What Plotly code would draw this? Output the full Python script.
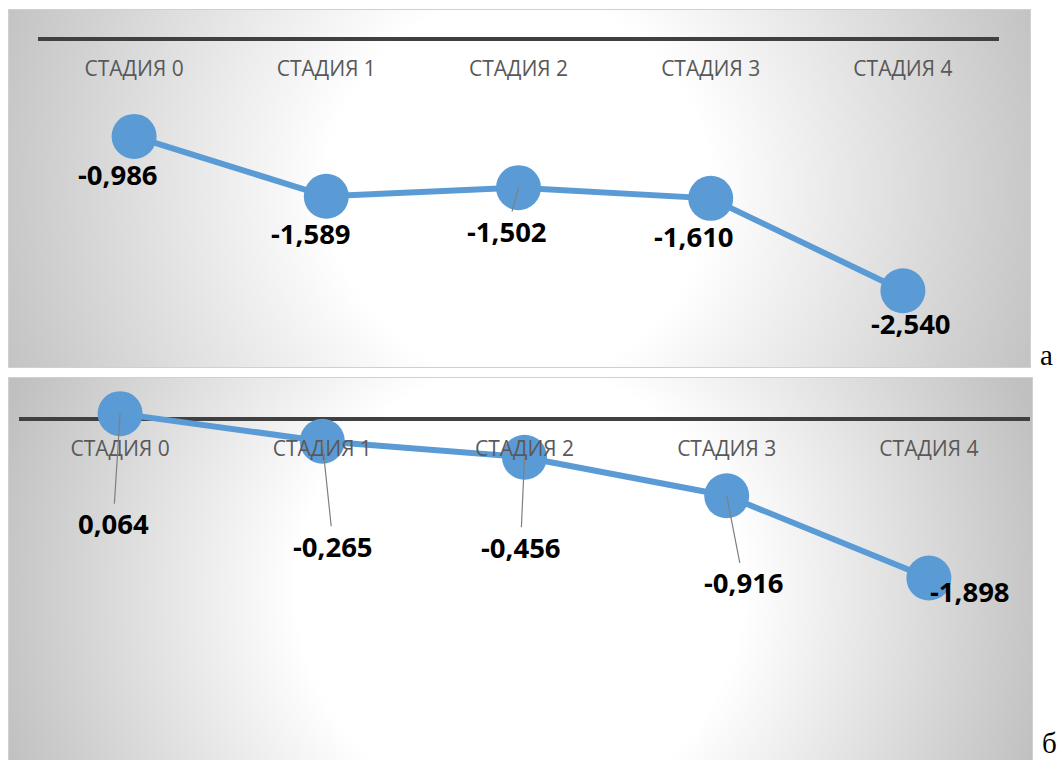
import base64
import plotly.graph_objects as go

# ---------------- data ----------------
categories = ["СТАДИЯ 0", "СТАДИЯ 1", "СТАДИЯ 2", "СТАДИЯ 3", "СТАДИЯ 4"]
values_a = [-0.986, -1.589, -1.502, -1.610, -2.540]
values_b = [0.064, -0.265, -0.456, -0.916, -1.898]
panel_letters = ["а", "б"]

# ---------------- styling / layout constants ----------------
W, H = 1061, 760
BLUE = "#5B9BD5"
AXIS = "#404040"
TICK = "#595959"
FONT = "Open Sans"

# label offsets (pixels) from each point, and whether a leader line is visible
off_a = [(-16, 38), (-15, 37), (-12, 44), (-17, 38), (8, 33)]
lead_a = [False, False, True, False, False]
off_b = [(-7, 110), (11, 105), (-4, 90), (17, 87), (41, 13)]
lead_b = [True, True, True, True, False]

# panel geometry (pixels)
def yrange(top_px, bot_px, zero_px, scale):
    return [-(bot_px - zero_px) / scale, (zero_px - top_px) / scale]

ra = yrange(10, 367, 38.5, 99.3)
rb = yrange(377, 760, 419, 83.8)
dom_ya = [1 - 367 / H, 1 - 10 / H]
dom_yb = [0, 1 - 377 / H]
dom_xa = [38 / W, 999 / W]
dom_xb = [19 / W, 1030 / W]


def zero_pos(dom, rng):
    return dom[0] + (0 - rng[0]) / (rng[1] - rng[0]) * (dom[1] - dom[0])


# ---------------- background (radial gradients) ----------------
svg = f'''<svg xmlns="http://www.w3.org/2000/svg" width="{W}" height="{H}" viewBox="0 0 {W} {H}" preserveAspectRatio="none">
<defs>
<radialGradient id="ga" gradientUnits="userSpaceOnUse" cx="519" cy="188" r="560">
<stop offset="0" stop-color="#ffffff"/><stop offset="0.34" stop-color="#ffffff"/><stop offset="1" stop-color="#c0c0c0"/>
</radialGradient>
<radialGradient id="gb" gradientUnits="userSpaceOnUse" cx="520" cy="590" r="542">
<stop offset="0" stop-color="#ffffff"/><stop offset="0.41" stop-color="#ffffff"/><stop offset="1" stop-color="#c0c0c0"/>
</radialGradient>
</defs>
<rect x="8.5" y="9.5" width="1022" height="358" fill="url(#ga)" stroke="#d0d0d0" stroke-width="1"/>
<rect x="8.5" y="377.5" width="1024" height="400" fill="url(#gb)" stroke="#d0d0d0" stroke-width="1"/>
</svg>'''
bg_uri = "data:image/svg+xml;base64," + base64.b64encode(svg.encode("utf-8")).decode("ascii")

fig = go.Figure()

fig.add_trace(go.Scatter(
    x=categories, y=values_a, xaxis="x", yaxis="y", mode="lines+markers",
    line=dict(color=BLUE, width=6), marker=dict(color=BLUE, size=45),
    hoverinfo="skip", showlegend=False, cliponaxis=False))
fig.add_trace(go.Scatter(
    x=categories, y=values_b, xaxis="x2", yaxis="y2", mode="lines+markers",
    line=dict(color=BLUE, width=6), marker=dict(color=BLUE, size=45),
    hoverinfo="skip", showlegend=False, cliponaxis=False))

annotations = []
for vals, offs, leads, xr, yr in [(values_a, off_a, lead_a, "x", "y"),
                                   (values_b, off_b, lead_b, "x2", "y2")]:
    for c, v, (dx, dy), ld in zip(categories, vals, offs, leads):
        annotations.append(dict(
            x=c, y=v, xref=xr, yref=yr, ax=dx, ay=dy,
            text=f"{v:.3f}".replace(".", ","), showarrow=True,
            arrowhead=0, arrowwidth=1.2,
            arrowcolor="#7f7f7f" if ld else "rgba(0,0,0,0)",
            font=dict(family=FONT, size=27.5, color="#000000", weight="bold"),
        ))

annotations.append(dict(x=1046 / W, y=1 - 355 / H, xref="paper", yref="paper",
                        text=panel_letters[0], showarrow=False,
                        font=dict(family="Liberation Serif", size=29, color="#000"),
                        xanchor="center", yanchor="middle"))
annotations.append(dict(x=1049 / W, y=0, xref="paper", yref="paper",
                        text=panel_letters[1], showarrow=False,
                        font=dict(family="Liberation Serif", size=29, color="#000"),
                        xanchor="center", yanchor="bottom", borderpad=0))

xcommon = dict(type="category", range=[-0.5, 4.5], showgrid=False, zeroline=False,
               showline=False, ticks="", ticklabelstandoff=15,
               tickfont=dict(family=FONT, size=21, color=TICK), anchor="free", side="bottom")
ycommon = dict(showgrid=False, showticklabels=False, ticks="", showline=False,
               zeroline=True, zerolinecolor=AXIS, zerolinewidth=4)

fig.update_layout(
    width=W, height=H, margin=dict(l=0, r=0, t=0, b=0),
    paper_bgcolor="#ffffff", plot_bgcolor="rgba(0,0,0,0)",
    xaxis=dict(domain=dom_xa, position=zero_pos(dom_ya, ra), **xcommon),
    yaxis=dict(domain=dom_ya, range=ra, anchor="x", **ycommon),
    xaxis2=dict(domain=dom_xb, position=zero_pos(dom_yb, rb), **xcommon),
    yaxis2=dict(domain=dom_yb, range=rb, anchor="x2", **ycommon),
    annotations=annotations,
    images=[dict(source=bg_uri, xref="paper", yref="paper", x=0, y=1, sizex=1, sizey=1,
                 xanchor="left", yanchor="top", sizing="stretch", layer="below")],
)

fig.write_html("out.html")
